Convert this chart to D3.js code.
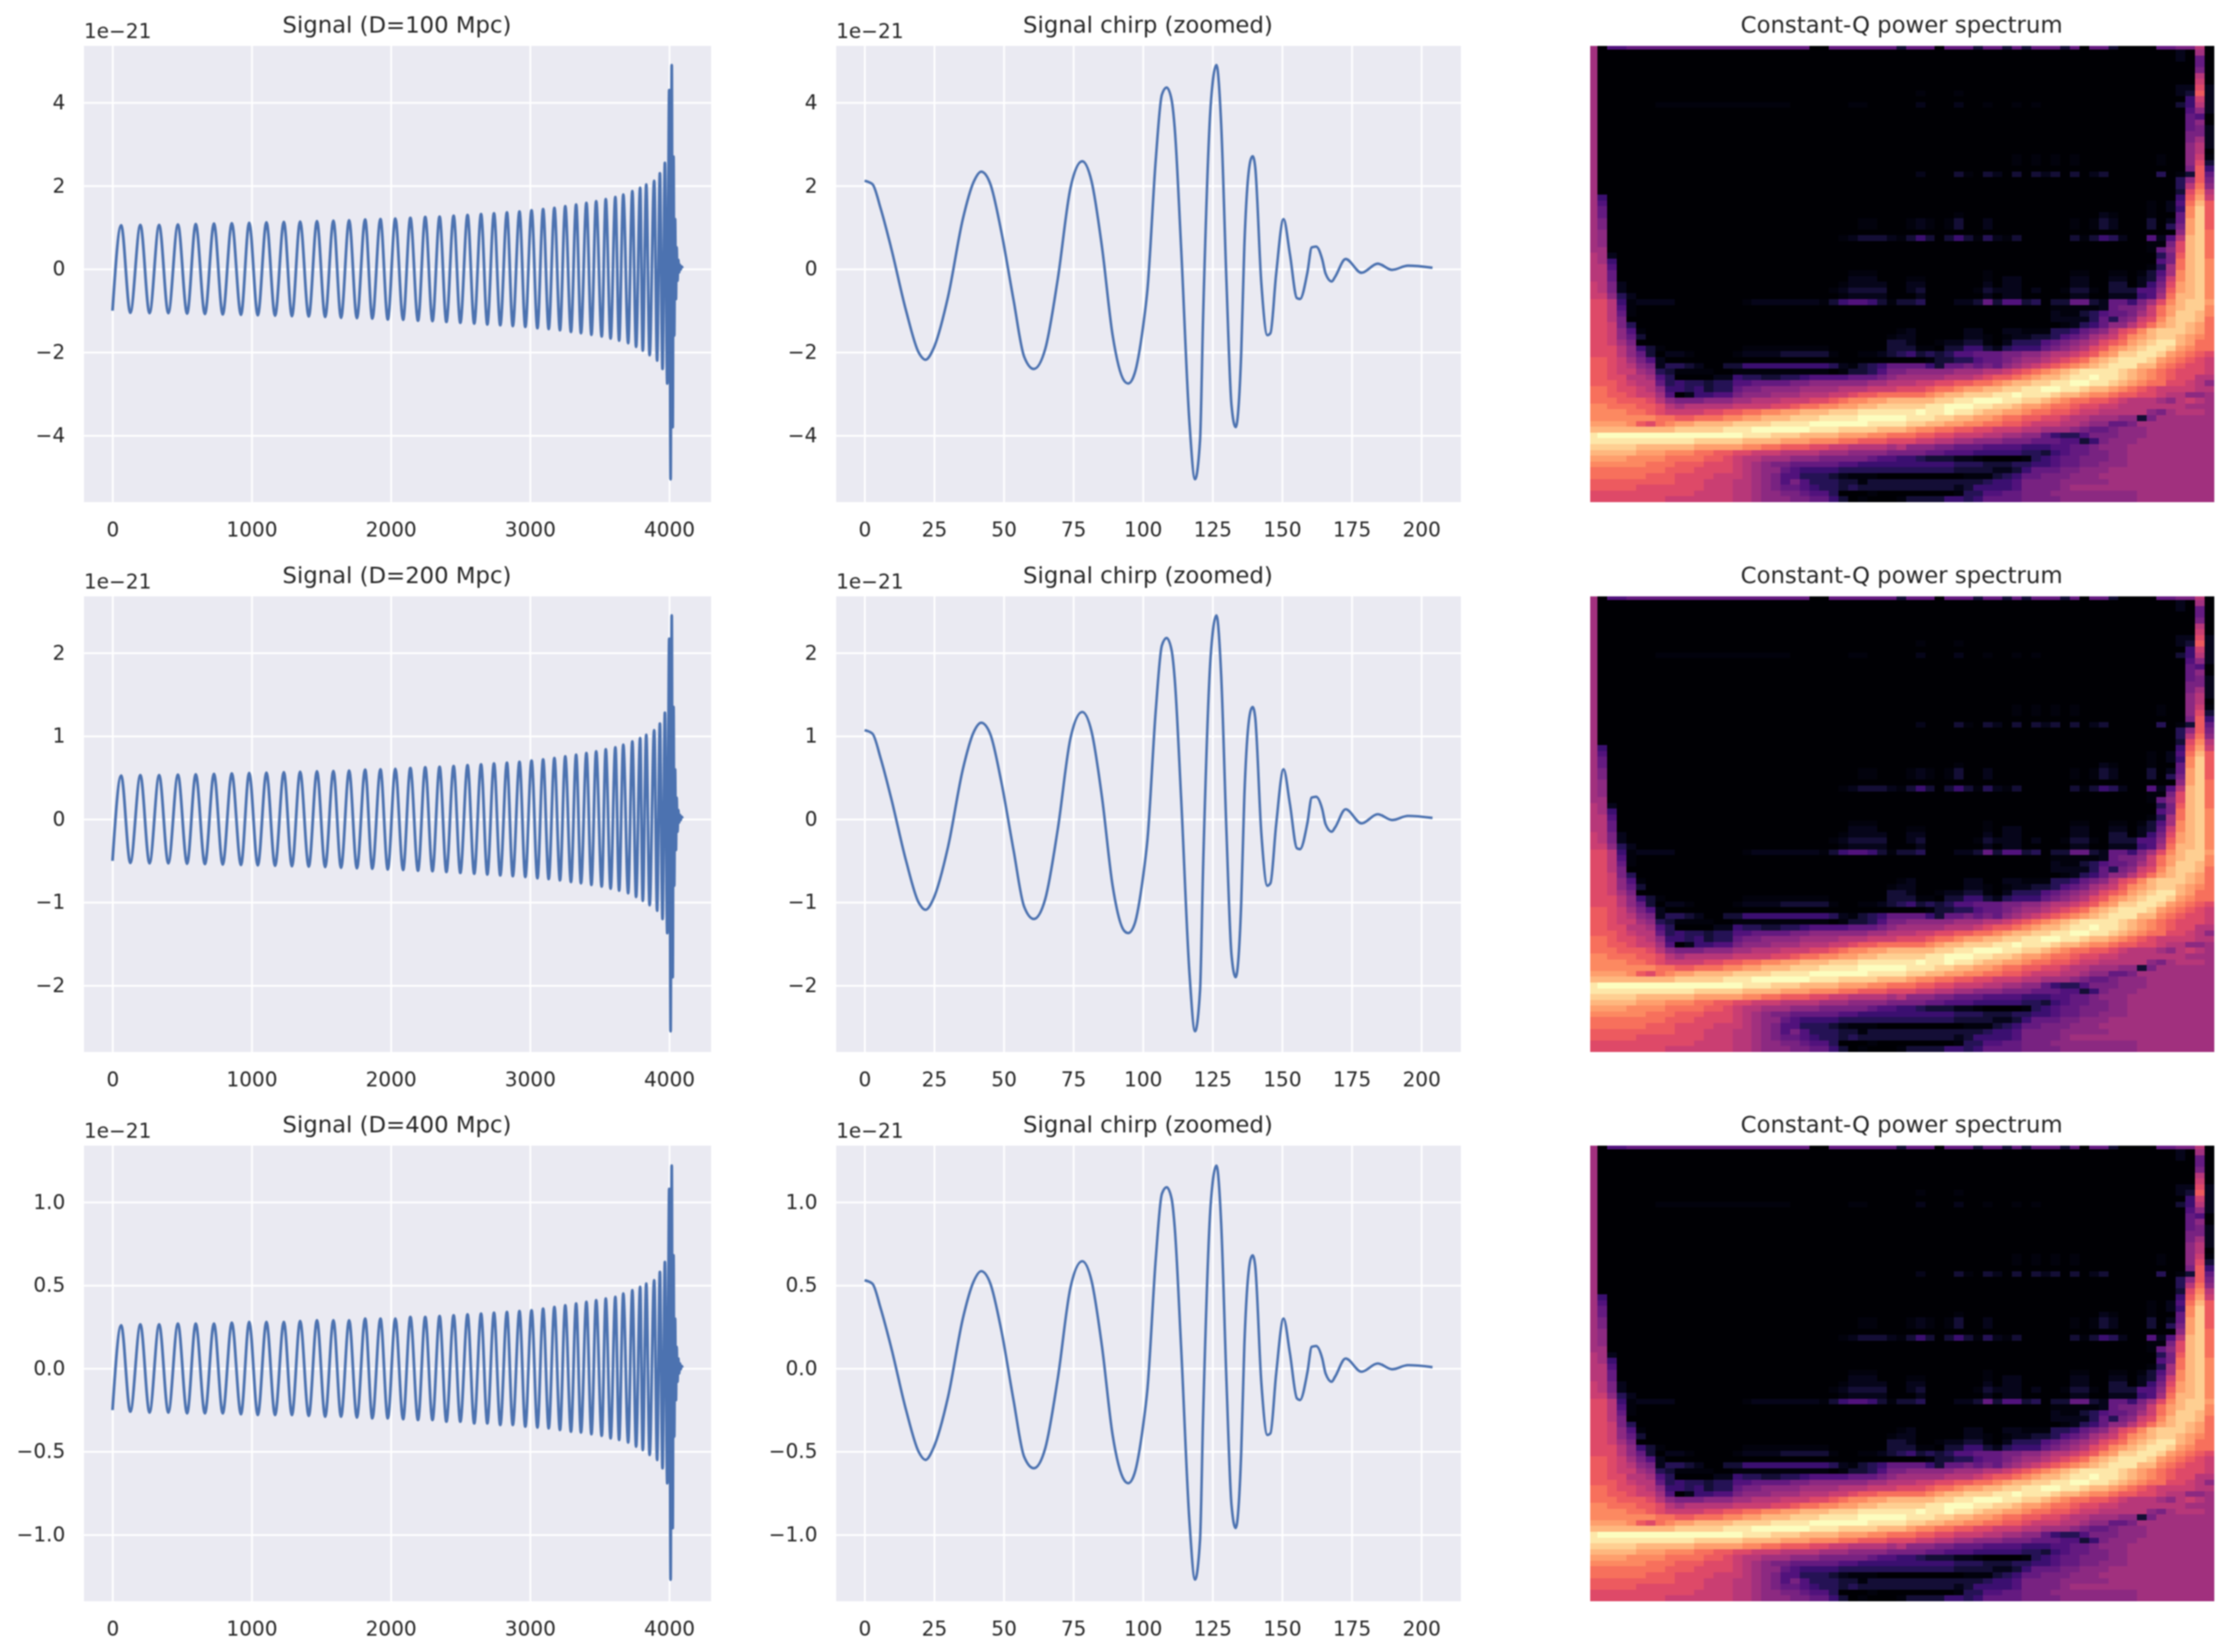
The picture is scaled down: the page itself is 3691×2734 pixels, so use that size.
<!DOCTYPE html>
<html><head><meta charset="utf-8">
<script src="https://cdn.jsdelivr.net/npm/d3@7/dist/d3.min.js"></script>
<style>html,body{margin:0;background:#fff}svg{display:block;filter:blur(1.2px)}text{font-family:"DejaVu Sans";fill:#262626}</style>
</head><body><div id="chart"></div>
<script>
const distances=[100,200,400];
const mainTitles=["Signal (D=100 Mpc)","Signal (D=200 Mpc)","Signal (D=400 Mpc)"];
const chirpTitle="Signal chirp (zoomed)";
const spectrumTitle="Constant-Q power spectrum";
const offsetLabel="1e\u221221";
const mainTicksX=[0,1000,2000,3000,4000];
const chirpTicksX=[0,25,50,75,100,125,150,175,200];
const ticksY=[[-4,-2,0,2,4],[-2,-1,0,1,2],[-1,-0.5,0,0.5,1]];
const domainsY=[[-5.6,5.36],[-2.8,2.68],[-1.4,1.34]];

// sample index of each turning point of the full signal
const mainTime=[0,62,128,200,266,335,401,470,536,598,664,729,792,857,923,982,1044,1106,1168,1231,1289,1348,1410,1469,1528,1587,1642,1700,1756,1815,1867,1925,1978,2032,2088,2140,2195,2247,2299,2350,2399,2451,2499,2551,2599,2648,2693,2741,2786,2834,2876,2924,2966,3011,3053,3094,3134,3175,3215,3253,3294,3331,3366,3405,3441,3475,3515,3544,3579,3613,3640,3670,3705,3735,3762,3791,3810,3835,3859,3892,3913,3933,3952,3969,3986,4000,4010,4018,4025,4031,4036,4042,4048,4053,4059,4065,4071,4077,4082,4088,4096];
const main100=[-1,1.05,-1.05,1.06,-1.06,1.06,-1.06,1.07,-1.07,1.08,-1.08,1.09,-1.09,1.1,-1.1,1.11,-1.11,1.12,-1.12,1.13,-1.13,1.14,-1.14,1.15,-1.15,1.16,-1.17,1.17,-1.18,1.19,-1.19,1.2,-1.21,1.21,-1.22,1.23,-1.24,1.25,-1.25,1.26,-1.27,1.28,-1.29,1.3,-1.31,1.32,-1.33,1.34,-1.35,1.36,-1.37,1.38,-1.39,1.41,-1.42,1.44,-1.44,1.47,-1.47,1.51,-1.51,1.55,-1.54,1.59,-1.58,1.63,-1.62,1.68,-1.67,1.73,-1.72,1.79,-1.78,1.87,-1.87,1.95,-1.96,2.03,-2.07,2.12,-2.2,2.3,-2.4,2.55,-2.75,4.3,-5.05,4.9,-3.8,2.7,-1.6,1.2,-0.72,0.52,-0.28,0.22,-0.08,0.1,-0.01,0.06,0.02];
const main200=[-0.5,0.525,-0.525,0.53,-0.53,0.53,-0.53,0.535,-0.535,0.54,-0.54,0.545,-0.545,0.55,-0.55,0.555,-0.555,0.56,-0.56,0.565,-0.565,0.57,-0.57,0.575,-0.575,0.58,-0.585,0.585,-0.59,0.595,-0.595,0.6,-0.605,0.605,-0.61,0.615,-0.62,0.625,-0.625,0.63,-0.635,0.64,-0.645,0.65,-0.655,0.66,-0.665,0.67,-0.675,0.68,-0.685,0.69,-0.695,0.705,-0.71,0.72,-0.72,0.735,-0.735,0.755,-0.755,0.775,-0.77,0.795,-0.79,0.815,-0.81,0.84,-0.835,0.865,-0.86,0.895,-0.89,0.935,-0.935,0.975,-0.98,1.015,-1.035,1.07,-1.1,1.15,-1.2,1.28,-1.37,2.17,-2.55,2.45,-1.9,1.35,-0.8,0.6,-0.37,0.26,-0.15,0.11,-0.04,0.05,-0.01,0.03,0.01];
const main400=[-0.25,0.26,-0.26,0.265,-0.265,0.265,-0.265,0.27,-0.27,0.27,-0.27,0.27,-0.27,0.275,-0.275,0.28,-0.28,0.28,-0.28,0.28,-0.28,0.285,-0.285,0.29,-0.29,0.29,-0.29,0.29,-0.295,0.3,-0.3,0.3,-0.3,0.3,-0.305,0.31,-0.31,0.31,-0.31,0.315,-0.32,0.32,-0.32,0.325,-0.33,0.33,-0.33,0.335,-0.34,0.34,-0.34,0.345,-0.35,0.35,-0.355,0.36,-0.36,0.37,-0.37,0.38,-0.38,0.39,-0.385,0.4,-0.395,0.41,-0.405,0.42,-0.42,0.43,-0.43,0.45,-0.445,0.47,-0.47,0.49,-0.49,0.51,-0.52,0.53,-0.55,0.58,-0.6,0.64,-0.69,1.08,-1.27,1.22,-0.96,0.68,-0.41,0.3,-0.19,0.13,-0.08,0.06,-0.03,0.03,-0.005,0.015,0.005];

// points
const chirpTime=[0,2.8,5.8,9.5,14.9,19.4,21.9,24.7,30,35.3,39.1,41.9,45.2,49,53.5,57.3,60.8,64.9,69.4,74,78.2,81.5,85.3,89.1,93.2,94.7,97,100,101.6,104.6,106.8,108.5,110.3,111.4,113.7,116.7,118.7,120.5,121.6,124.3,126.4,128.1,130,131.8,133.3,135.3,136.4,138.7,139.4,140.3,142.5,144.7,145.8,147.8,150.5,152.8,155.3,156.4,159.1,160.6,162.2,164.4,165.6,167.8,169,172.8,178.5,184.3,189.5,195.2,204];
const chirp100=[2.12,2.04,1.45,0.52,-1,-2,-2.18,-1.92,-0.66,1.2,2.08,2.34,2.04,0.94,-0.74,-2.1,-2.4,-1.92,-0.24,1.96,2.59,2.12,0.52,-1.59,-2.68,-2.75,-2.51,-1.4,-0.5,2.63,4.19,4.36,4.06,3.39,0.52,-3.69,-5.05,-4.11,-1.16,3.9,4.9,3.47,-0.32,-3.27,-3.8,-2,0.52,2.63,2.71,2.46,-0.32,-1.59,-1.54,-0.15,1.2,0.35,-0.7,-0.72,-0.07,0.52,0.54,0.23,-0.11,-0.3,-0.19,0.24,-0.09,0.13,-0.02,0.08,0.03];
const chirp200=[1.07,1.03,0.73,0.26,-0.5,-1,-1.09,-0.96,-0.33,0.6,1.04,1.16,1.02,0.47,-0.37,-1.05,-1.2,-0.96,-0.12,0.98,1.29,1.06,0.26,-0.8,-1.34,-1.37,-1.26,-0.7,-0.25,1.31,2.09,2.18,2.03,1.69,0.26,-1.85,-2.55,-2.06,-0.58,1.95,2.45,1.73,-0.16,-1.63,-1.9,-1,0.26,1.31,1.35,1.23,-0.16,-0.8,-0.77,-0.08,0.6,0.18,-0.35,-0.36,-0.04,0.26,0.27,0.12,-0.06,-0.15,-0.1,0.12,-0.05,0.06,-0.01,0.04,0.015];
const chirp400=[0.53,0.51,0.36,0.13,-0.25,-0.5,-0.55,-0.48,-0.17,0.3,0.52,0.585,0.51,0.24,-0.19,-0.53,-0.6,-0.48,-0.06,0.49,0.645,0.53,0.13,-0.4,-0.67,-0.69,-0.63,-0.35,-0.125,0.66,1.05,1.09,1.02,0.85,0.13,-0.92,-1.27,-1.03,-0.29,0.98,1.22,0.87,-0.08,-0.82,-0.96,-0.5,0.13,0.66,0.68,0.62,-0.08,-0.4,-0.39,-0.04,0.3,0.09,-0.18,-0.19,-0.02,0.13,0.135,0.06,-0.03,-0.08,-0.05,0.06,-0.02,0.03,-0.005,0.02,0.008];
const mainSeries=[main100,main200,main400];
const chirpSeries=[chirp100,chirp200,chirp400];

// constant-Q cells, top row first, one character per column: 0..k = 0..1 in steps of 0.05, z = 0.025
const spectrumRows=[
"9055666666 6666666666 6660066666 6626660666 2662626662 6066200006 677a0",
"9000000000 0000000000 0000000000 0000000000 0000000000 0000000000 01090",
"9000000000 0000000000 0000000000 0000000000 0000000000 0000000000 01060",
"9000000000 0000000000 0000000000 0000000000 0000000000 0000000000 00060",
"9000000000 0000000000 0000000000 0000000000 0000000000 0000000000 00070",
"9000000000 0000000000 0000000000 0000000000 0000000000 0000000000 000a0",
"9000000000 0000000000 0000000000 0000000000 0000000000 0000000000 000b0",
"9000000000 0000000000 0000000000 0000000000 0000000000 0000000000 011c1",
"9000000000 0000000000 0000000000 0000z000z0 0000000000 0000000000 012d1",
"9000000000 0000000000 0000000000 0000000000 0000000000 0000000000 004b1",
"9000000zzz zzzzzzzzzz z000000zz0 0000100010 0z00z0z000 0000000000 024a1",
"9000000000 0000000000 0000000000 0000000000 0000000000 0000000000 00581",
"9000000000 0000000000 0000000000 0000000000 0000000000 0000000000 00650",
"9000000000 0000000000 0000000000 0000000000 0000000000 0000000000 00680",
"9000000000 0000000000 0000000000 0000000000 0000000000 0000000000 00671",
"9000000000 0000000000 0000000000 0000000000 0000000000 0000000000 00771",
"9000000000 0000000000 0000000000 0000000000 0000000000 0000000000 00791",
"9000000000 0000000000 0000000000 0000000000 0000000000 0000000000 008a1",
"9000000000 0000000000 0000000000 0000000000 0000000000 0000000000 008a0",
"9000000000 0000000000 0000000000 0000000000 0000z0z0z0 z00000000z 008bz",
"9000000000 0000000000 0000000000 0000000000 0000z0z0z0 z00000000z 008c2",
"9000000000 0000000000 0000000000 0000000000 0000000000 0000000000 007d4",
"9000000000 0000000000 0000000000 000010002z 0210202120 2012000003 0z2d6",
"9000000000 0000000000 0000000000 0000000000 0000000000 0000000000 038d7",
"9000000000 0000000000 0000000000 0000000000 0000000000 0000000000 03ae8",
"9000000000 0000000000 0000000000 0000000000 0000000000 0000000000 02cfa",
"9400000000 0000000000 0000000000 0000000000 0000000000 0000000000 04dgb",
"9500000000 0000000000 0000000000 0000000000 0000000000 00000000z0 15ehd",
"9600000000 0000000000 0000000000 0000000000 0000000000 00000000z0 14fid",
"9600000000 0000000000 0000000000 00000000z0 0000000000 0001z000z0 06fid",
"9700000000 0000000000 00000000zz 000z1z0z20 0100000000 z0z2100020 16gid",
"9700000000 0000000000 00000000zz 000z1z0z20 0100000000 z0z2100020 37gid",
"9800000000 0000000000 0000000000 0000000000 0000000000 0000000000 08gie",
"9800000000 0000000000 000000z122 21z2420242 z31z200000 2z24310051 5ahie",
"9800000000 0000000000 0000000000 0000000000 0000000000 00000000zz 7chie",
"9900000000 0000000000 0000000000 0000000000 0000000000 00000000z6 8chie",
"a910000000 0000000000 0000000000 0000000000 0000000000 0000000003 7dhie",
"a940000000 0000000000 0000000000 0000000000 0000000000 0000000005 7ehif",
"aa50000000 0000000000 0000000000 0000000000 0000000000 00000000z3 9ehif",
"aa60000000 0000000000 0000000zzz 0000000000 0z00000000 zz00zz0z25 9fhif",
"aa60000000 0000000000 0000000111 000zz00000 0z01100000 1100110126 bfhif",
"ba71000000 0000000000 000000z111 1001100000 0101100000 1100220147 cghif",
"ba71000000 0000000000 00000z1222 2001200000 z21110100z 22z0222558 dghif",
"bb83100000 0000000000 000000z111 1000100000 0101100000 1100111459 ehhif",
"cca4z11110 000000z111 1111z24554 2z22300011 2625523022 662166479c fhiig",
"cca5z00000 0000000000 0000000000 0000000000 00000000zz zzz16778be ghiif",
"cca6z00000 0000000000 0000000000 0000000000 000000001z z2356679be giihf",
"cca7000000 0000000000 0000000000 0000000000 0000000011 1136378bcf hiihe",
"ccb7300000 0000000000 0000000000 0000000000 000000000z 134688aceg hihge",
"ccb85z0000 0000000000 0000000000 00z1000001 10011zzz33 4678acdfhi iihge",
"ccb8620000 0000000000 0000000000 0z11000001 1z0z112235 679abdfghi ihgfe",
"ccb9700000 0000000000 0000000000 022100z112 2z01333567 89acdeghij jhgee",
"ccca842z00 000000zzzz zzzzz00000 0222zz0224 4213444678 9acdfghijj igfee",
"ccca862011 z0000z1111 22222z00zz 1234232355 66677889aa bcdfgiijji gfedc",
"ddcb975100 0000000000 0000000000 00000z2233 5667899abc deghijjjig fedcb",
"ddcba87133 2100224444 4444431z23 4666642667 67689abcde fghijjjhhf edccb",
"ddcbb9832z zzz00zzzzz zzzzz0z223 5778888899 9aabcdefgh ijjjjihgfe dcccb",
"ddccaa9530 0001143322 3345555666 7899999aaa bcddefghhi jjkjjihgfe dccaa",
"dddcbaa634 3323355666 6778888889 9aaabbccdd eefghhiijj kkjjihgfee ccba8",
"eedccba844 3423367788 889999aaab bbcccdeefg ghhiijjkkj jihhgfedcb bbbaa",
"eeddcbb950 1445578889 99aaabbcdd eeeeefghhi iijjkjjjih hgffeddccb aa889",
"eeedddca87 7788899aaa bbbccdeffg ghhhhhiijj kkkjjiihgf eeddcbaaa9 8aba9",
"ffeeeddca9 aaaaabbbbc cdeeffgghh iiiiijjkkk jjiihggfee dccbbaaaaa aa999",
"ffffeedcbb bbccddeeff gghhhiiijj jjjjkjjkjj ihhggfeedd cbbaaaaa87 9aaa9",
"fffffffeed deeeffgghh hiiijjjjkk kkkjjjiihh ggfeeddccb aa99988279 99999",
"ggggfdcefg ghhhhiiiij jjjkkkkkkj jjjiihhggf feeddcbbba a988667999 99999",
"hhhhhhhhhi iiiijjjkkk kkkjjjiiii hhhgffeedd ccbbbaa999 8766788899 99999",
"jkkkkkkkkk kkkkkkjjji iihhhhgggf feeeddccbb baa9988643 3577788899 99999",
"jjjjjjjjjj jiiiiihhhh gggfffeedd dcccbbaa99 8887776665 5247888999 99999",
"iiiiihhhhh hgggggffee dddccbbaaa a9a8887766 6555544455 6678889999 99999",
"hhhhhgggff feeddccbbb aaaa999888 8777766555 4444433245 6677889999 99999",
"ggggffffee eeddcbaa99 9888777776 5544322211 z0000z3456 6777889999 99999",
"ffffffeeed ddcccba987 7666665544 4444444433 3222334456 6778889999 99999",
"eeeeeeeedd dccccba988 6544443333 3333333322 2211246667 7888999999 99999",
"eeeeeedddc cccbbba987 5533321zzz 000000000z zz23466777 8889999999 99999",
"dddddddddc ccbbbaa987 57533322z2 2222222222 2344577778 8888999999 99999",
"dddddccccc ccbbbaa987 6654332322 2222222212 4444577778 9999999999 99999",
"cccccccccc cbbbbaa988 776553000z 00000000z3 3556677788 8888888999 99999",
"ccccccccbb bbbbbaa988 87766420z0 00z2222443 4666677778 8888888999 99999"
];
const levelChars="0123456789abcdefghijk";

const W=3691,H=2734,TICK=33.2,TITLE=37.7;
const colX=[[139,1177],[1384,2418],[2632,3665]];
const rowY=[[76,831],[987,1741],[1896,2650]];
const color=d3.scaleSequential(d3.interpolateMagma).domain([0,1]);
const svg=d3.select("#chart").append("svg").attr("width",W).attr("height",H).attr("viewBox",`0 0 ${W} ${H}`);

function linePanel(col,row,title,xDomain,xTicks,times,values,lineWidth){
  const [x0,x1]=colX[col],[y0,y1]=rowY[row];
  const x=d3.scaleLinear().domain(xDomain).range([x0,x1]);
  const y=d3.scaleLinear().domain(domainsY[row]).range([y1,y0]);
  const g=svg.append("g");
  g.append("rect").attr("x",x0).attr("y",y0).attr("width",x1-x0).attr("height",y1-y0).attr("fill","#eaeaf2");
  const ax=g.append("g").attr("transform",`translate(0,${y1})`)
    .call(d3.axisBottom(x).tickValues(xTicks).tickSize(-(y1-y0)).tickPadding(33).tickFormat(d3.format("d")));
  const ay=g.append("g").attr("transform",`translate(${x0},0)`)
    .call(d3.axisLeft(y).tickValues(ticksY[row]).tickSize(-(x1-x0)).tickPadding(31)
      .tickFormat(d=>(row===2?d3.format(".1f")(d):d3.format("d")(d)).replace("-","\u2212")));
  [ax,ay].forEach(a=>{
    a.select(".domain").remove();
    a.selectAll("line").attr("stroke","#fff").attr("stroke-width",3);
    a.selectAll("text").attr("font-size",TICK).style("fill","#262626").attr("font-family","DejaVu Sans");
  });
  const line=d3.line().x(i=>x(times[i])).y(i=>y(values[i])).curve(d3.curveMonotoneX);
  g.append("path").attr("d",line(d3.range(times.length))).attr("fill","none")
    .attr("stroke","#4c72b0").attr("stroke-width",lineWidth).attr("stroke-linejoin","round");
  g.append("text").attr("x",(x0+x1)/2-1).attr("y",y0-22).attr("text-anchor","middle").attr("font-size",TITLE).text(title);
  g.append("text").attr("x",x0).attr("y",y0-13).attr("font-size",TICK).text(offsetLabel);
}

function spectrumPanel(row){
  const [x0,x1]=colX[2],[y0,y1]=rowY[row];
  const cells=spectrumRows.map(s=>s.replace(/ /g,""));
  const nCols=65,nRows=cells.length;
  const x=d3.scaleLinear().domain([0.23,nCols]).range([x0,x1]);
  const y=d3.scaleLinear().domain([0.34,nRows]).range([y0,y1]);
  const id="clip"+row;
  svg.append("clipPath").attr("id",id).append("rect").attr("x",x0).attr("y",y0).attr("width",x1-x0).attr("height",y1-y0);
  const g=svg.append("g").attr("clip-path",`url(#${id})`);
  const data=[];
  cells.forEach((s,r)=>{for(let c=0;c<nCols;c++){const ch=s[c]||"0";data.push({r,c,v:ch==="z"?0.025:levelChars.indexOf(ch)/20});}});
  g.selectAll("rect").data(data).join("rect")
    .attr("x",d=>x(d.c)).attr("y",d=>y(d.r))
    .attr("width",x(1)-x(0)+0.6).attr("height",y(1)-y(0)+0.6)
    .attr("fill",d=>color(d.v)).attr("shape-rendering","crispEdges");
  svg.append("text").attr("x",(x0+x1)/2-1).attr("y",y0-22).attr("text-anchor","middle").attr("font-size",TITLE).text(spectrumTitle);
}

distances.forEach((d,row)=>{
  linePanel(0,row,mainTitles[row],[-205,4301],mainTicksX,mainTime,mainSeries[row],4.6);
  linePanel(1,row,chirpTitle,[-10.2,214.2],chirpTicksX,chirpTime,chirpSeries[row],4.2);
  spectrumPanel(row);
});
</script>
</body></html>
